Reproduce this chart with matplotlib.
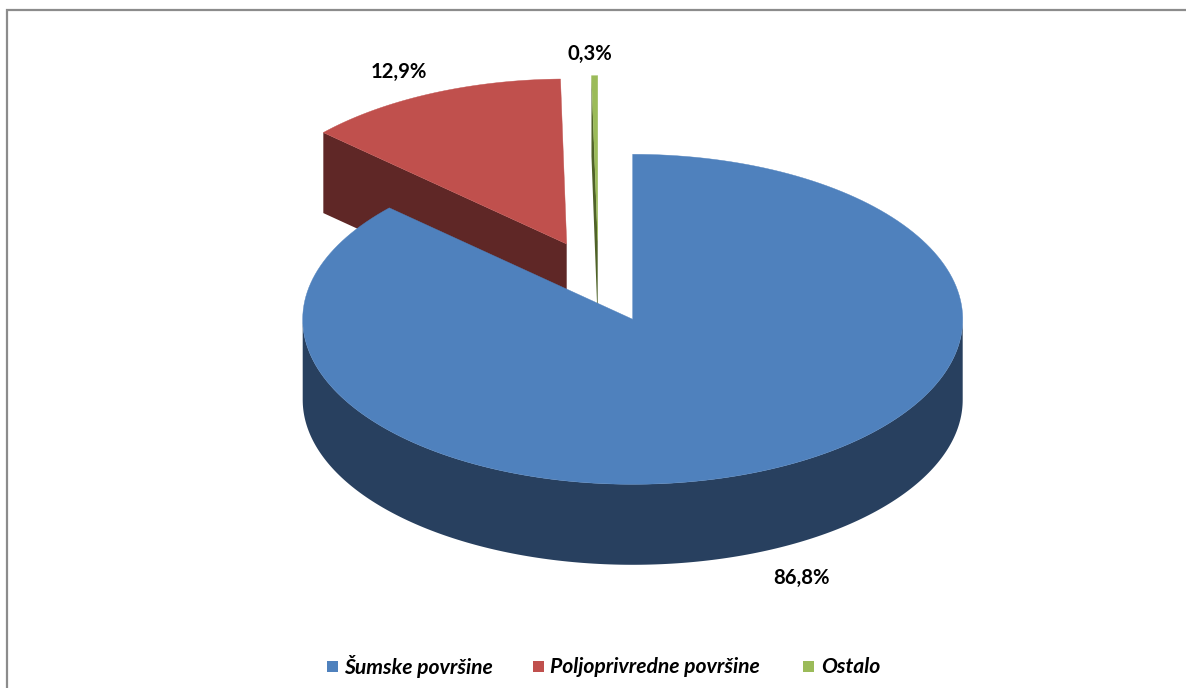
import matplotlib

matplotlib.use("Agg")
import matplotlib.pyplot as plt
from matplotlib.patches import Polygon, Rectangle
import numpy as np

categories = ["Šumske površine", "Poljoprivredne površine", "Ostalo"]
shares = [86.8, 12.9, 0.3]
share_labels = ["86,8%", "12,9%", "0,3%"]

top_colors = ["#4F81BD", "#C0504D", "#9BBB59"]
side_colors = ["#28405F", "#5F2726", "#4F6228"]

# pie geometry in image pixels
RX, RY = 330, 165
DEPTH = 80.5
CENTERS = [(632.7, 319.3), (566.7, 244.0), (597.7, 240.7)]
LABEL_POS = [(802, 578), (399, 72), (590, 54)]
LEGEND_BOX_X = [327, 533, 803]
LEGEND_TEXT_X = [344, 550, 821]
LEGEND_Y = 667

plt.rcParams["font.family"] = ["Lato", "DejaVu Sans"]


def rim(center, start, end, n=200):
    # clockwise from 12 o'clock, angles in degrees
    th = np.radians(np.linspace(start, end, n))
    return np.column_stack(
        [center[0] + RX * np.sin(th), center[1] - RY * np.cos(th)]
    )


fig = plt.figure(figsize=(11.86, 6.88), dpi=100)
ax = fig.add_axes([0, 0, 1, 1])
ax.set_xlim(0, 1186)
ax.set_ylim(688, 0)
ax.axis("off")

# frame, only top and left fall inside the crop
ax.plot([6.5, 6.5, 1186], [688, 9.5, 9.5], color="#8C8C8C", lw=1.6, solid_joinstyle="miter")

edges = np.cumsum([0] + shares) / 100 * 360
down = np.array([0, DEPTH])

# back slices first, the big one sits in front of them
for i in [1, 2, 0]:
    c = np.array(CENTERS[i])
    start, end = edges[i], edges[i + 1]
    outer = rim(c, start, end)

    if i == 0:
        # outer wall along the front half
        wall = rim(c, 90, 270)
        ax.add_patch(Polygon(np.vstack([wall, (wall + down)[::-1]]), fc=side_colors[i], ec="none"))
    else:
        # cut face on the leading edge
        p = outer[0]
        face = np.array([p, c, c + down, p + down])
        ax.add_patch(Polygon(face, fc=side_colors[i], ec="none"))

    ax.add_patch(Polygon(np.vstack([c, outer]), fc=top_colors[i], ec=top_colors[i], lw=0.3))

for pos, txt in zip(LABEL_POS, share_labels):
    ax.text(pos[0], pos[1], txt, ha="center", va="center", fontsize=14.6, fontweight="bold", color="black")

for name, color, bx, tx in zip(categories, top_colors, LEGEND_BOX_X, LEGEND_TEXT_X):
    ax.add_patch(Rectangle((bx, LEGEND_Y - 6), 11, 11, fc=color, ec="none"))
    ax.text(tx, LEGEND_Y, name, ha="left", va="center", fontsize=15.2, fontweight="bold", fontstyle="italic", color="black")

fig.savefig("out.png", dpi=100)
